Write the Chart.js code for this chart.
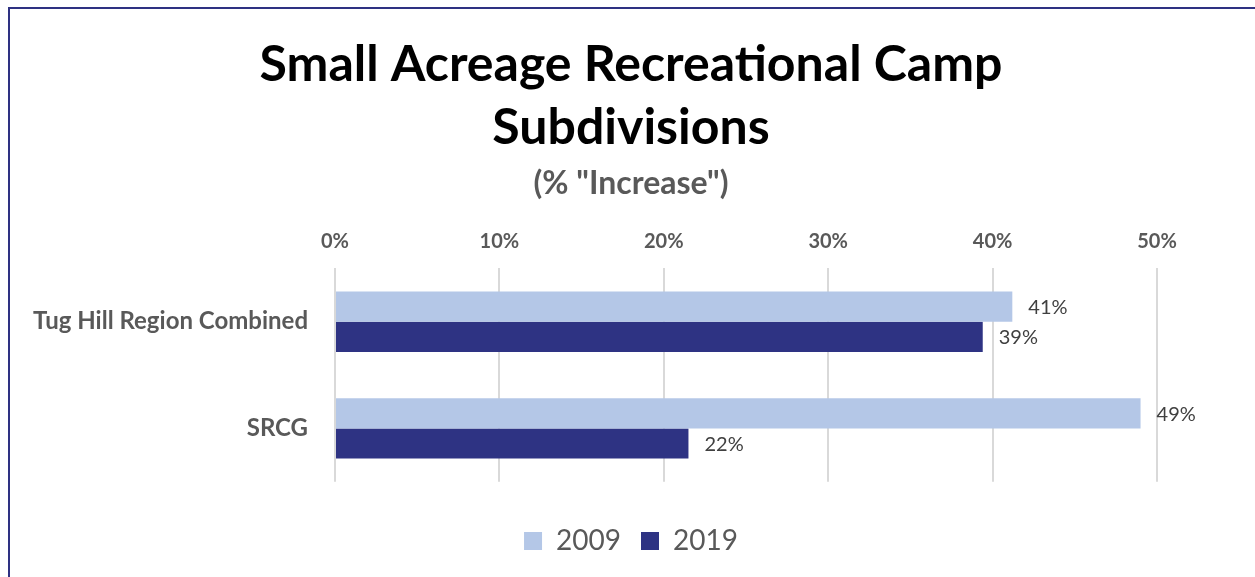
<!DOCTYPE html>
<html><head><meta charset="utf-8">
<script src="https://cdn.jsdelivr.net/npm/chart.js@4"></script>
<style>
html,body{margin:0;padding:0;background:#fff;overflow:hidden}
#wrap{position:absolute;left:0;top:0;width:1255px;height:577px}
#frame{position:absolute;left:8px;top:7px;width:1300px;height:600px;border:2px solid #2E3182;box-sizing:border-box}
canvas{position:absolute;left:0;top:0}
</style></head>
<body><div id="wrap"><div id="frame"></div><canvas id="c" width="1255" height="577"></canvas></div>
<script>
const categories = ["Tug Hill Region Combined", "SRCG"];
const series2009 = [41.2, 49.0];
const series2019 = [39.4, 21.5];
const seriesNames = ["2009", "2019"];
const tickValues = [0, 10, 20, 30, 40, 50];
const dataLabels2009 = ["41%", "49%"];
const dataLabels2019 = ["39%", "22%"];

const FONT = "Lato, 'Open Sans', sans-serif";

const labelPlugin = {
  id: 'barLabels',
  afterDatasetsDraw(chart) {
    const ctx = chart.ctx;
    const lbls = [dataLabels2009, dataLabels2019];
    ctx.save();
    ctx.font = "20px " + FONT;
    ctx.fillStyle = "#404040";
    ctx.textBaseline = "middle";
    ctx.textAlign = "left";
    chart.data.datasets.forEach((ds, di) => {
      chart.getDatasetMeta(di).data.forEach((bar, i) => {
        ctx.fillText(lbls[di][i], bar.x + 16, bar.y + 1);
      });
    });
    ctx.restore();
  }
};

new Chart(document.getElementById('c'), {
  type: 'bar',
  data: {
    labels: categories,
    datasets: [
      { label: seriesNames[0], data: series2009, backgroundColor: '#B4C7E7', borderWidth: 0 },
      { label: seriesNames[1], data: series2019, backgroundColor: '#2E3383', borderWidth: 0 }
    ]
  },
  options: {
    indexAxis: 'y',
    responsive: false,
    animation: false,
    devicePixelRatio: 1,
    layout: { padding: { left: 105, right: 98, top: 33, bottom: 12 } },
    categoryPercentage: 0.565,
    barPercentage: 1.0,
    scales: {
      x: {
        position: 'top',
        min: 0, max: 50,
        afterBuildTicks(scale) { scale.ticks = tickValues.map(v => ({ value: v })); },
        ticks: {
          callback: v => v + '%',
          font: { family: FONT, size: 20, weight: 'bold' },
          color: '#595959',
          padding: 15
        },
        grid: { color: '#D9D9D9', lineWidth: 2, drawTicks: false },
        border: { display: false }
      },
      y: {
        afterFit(scale) {
          scale.width = 230;
          scale._computeLabelArea = () => undefined;
        },
        ticks: {
          font: { family: FONT, size: 24, weight: 'bold' },
          color: '#595959',
          padding: 27
        },
        grid: { display: false, drawTicks: false },
        border: { display: false }
      }
    },
    plugins: {
      title: {
        display: true,
        text: ["Small Acreage Recreational Camp", "Subdivisions"],
        font: { family: FONT, size: 50, weight: 'bold', lineHeight: 1.26 },
        color: '#000000',
        padding: { top: 0, bottom: 0 }
      },
      subtitle: {
        display: true,
        text: '(% "Increase")',
        font: { family: FONT, size: 32, weight: 'bold' },
        color: '#595959',
        padding: { top: 5, bottom: 12 }
      },
      legend: {
        position: 'bottom',
        title: { display: true, text: ' ', font: { size: 1 }, padding: { top: 0, bottom: 24 } },
        labels: {
          font: { family: FONT, size: 28 },
          color: '#595959',
          boxWidth: 18, boxHeight: 18,
          padding: 20
        }
      },
      tooltip: { enabled: false }
    }
  },
  plugins: [labelPlugin]
});
</script></body></html>
